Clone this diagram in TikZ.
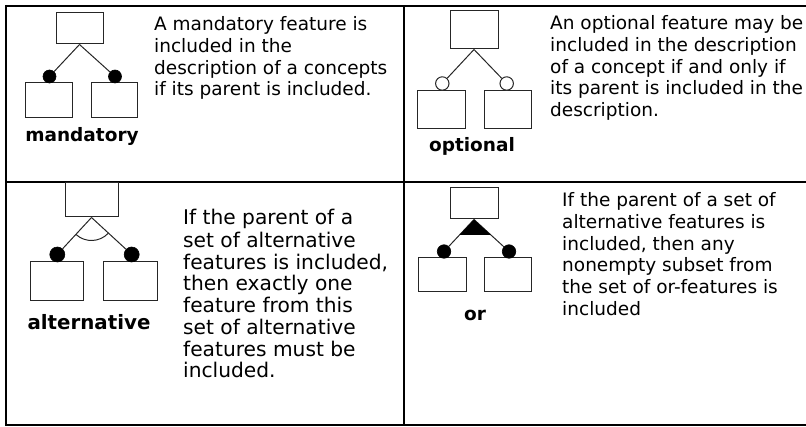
\documentclass[tikz,border=0pt]{standalone}
\usepackage{fontspec}
\setmainfont{DejaVu Sans}
\usetikzlibrary{calc}
\begin{document}
\begin{tikzpicture}[x=1pt,y=-1pt,
  grid/.style={line width=2pt,black},
  fbox/.style={draw=black!85,line width=1pt,inner sep=0,rectangle,fill=white},
  link/.style={draw=black!85,line width=1pt},
  mand/.style={circle,fill=black,draw=black,inner sep=0,line width=0.6pt},
  opt/.style={circle,fill=white,draw=black!85,inner sep=0,line width=1pt},
  desc/.style={anchor=north west,inner sep=0,align=left,font=\fontsize{18.5}{21.7}\selectfont},
  lbl/.style={anchor=base,inner sep=0,font=\fontsize{18.5}{21.7}\selectfont\bfseries}
]
\useasboundingbox (0,0) rectangle (806,427);
% table
\draw[grid] (6,6) -- (806,6);
\draw[grid] (6,182) -- (806,182);
\draw[grid] (6,425) -- (806,425);
\draw[grid] (6,5) -- (6,426);
\draw[grid] (404,6) -- (404,425);

% mandatory
\node[fbox,minimum width=47,minimum height=31] (mp) at (79.5,28.5) {};
\node[fbox,minimum width=47,minimum height=35] (mL) at (48.5,100.5) {};
\node[fbox,minimum width=46,minimum height=35] (mR) at (114,100.5) {};
\node[mand,minimum size=13] (mcL) at (49.5,76.5) {};
\node[mand,minimum size=13] (mcR) at (115,76.5) {};
\draw[link] (mp.south) -- (mcL);
\draw[link] (mp.south) -- (mcR);
\node[lbl] (mlab) at (82,141.7) {mandatory};
\node[desc] (mtxt) at (154,15.3) {\strut A mandatory feature is\\included in the\\description of a concepts\\if its parent is included.};

% optional
\node[fbox,minimum width=48,minimum height=38] (op) at (474,30) {};
\node[fbox,minimum width=48,minimum height=38] (oL) at (441,110) {};
\node[fbox,minimum width=47,minimum height=38] (oR) at (507.5,110) {};
\node[opt,minimum size=13.4] (ocL) at (442.3,83.5) {};
\node[opt,minimum size=13.4] (ocR) at (506.7,83.5) {};
\draw[link] (op.south) -- (ocL);
\draw[link] (op.south) -- (ocR);
\node[lbl] (olab) at (472,152) {optional};
\node[desc] (otxt) at (550,14.3) {\strut An optional feature may be\\included in the description\\of a concept if and only if\\its parent is included in the\\description.};

% alternative
\node[fbox,minimum width=53,minimum height=34] (ap) at (91.5,200) {};
\node[fbox,minimum width=53,minimum height=39] (aL) at (56.5,281.5) {};
\node[fbox,minimum width=54,minimum height=39] (aR) at (130,281.5) {};
\node[mand,minimum size=15] (acL) at (57.3,254.5) {};
\node[mand,minimum size=15] (acR) at (131.7,254.5) {};
\draw[link] (ap.south) -- (acL);
\draw[link] (ap.south) -- (acR);
\draw[link] (ap.south) ++(132.6:23) arc[start angle=132.6,end angle=43.5,radius=23];
\node[lbl,font=\fontsize{19.8}{21.7}\selectfont\bfseries] (alab) at (89,330) {alternative};
\node[desc,font=\fontsize{20.2}{21.7}\selectfont] (atxt) at (183,209.1) {\strut If the parent of a\\set of alternative\\features is included,\\then exactly one\\feature from this\\set of alternative\\features must be\\included.};

% or
\node[fbox,minimum width=48,minimum height=31] (orp) at (474,203.5) {};
\node[fbox,minimum width=48,minimum height=34] (orL) at (442,275) {};
\node[fbox,minimum width=47,minimum height=34] (orR) at (507.5,275) {};
\node[mand,minimum size=13.5] (orcL) at (444,251.5) {};
\node[mand,minimum size=13.5] (orcR) at (509,251.5) {};
\draw[link] (orp.south) -- (orcL);
\draw[link] (orp.south) -- (orcR);
\fill[black] (orp.south) -- ($(orp.south)!0.48!(orcL)$) -- ($(orp.south)!0.48!(orcR)$) -- cycle;
\node[lbl] (orlab) at (475,321) {or};
\node[desc] (ortxt) at (562,191.5) {\strut If the parent of a set of\\alternative features is\\included, then any\\nonempty subset from\\the set of or-features is\\included};
\end{tikzpicture}
\end{document}
